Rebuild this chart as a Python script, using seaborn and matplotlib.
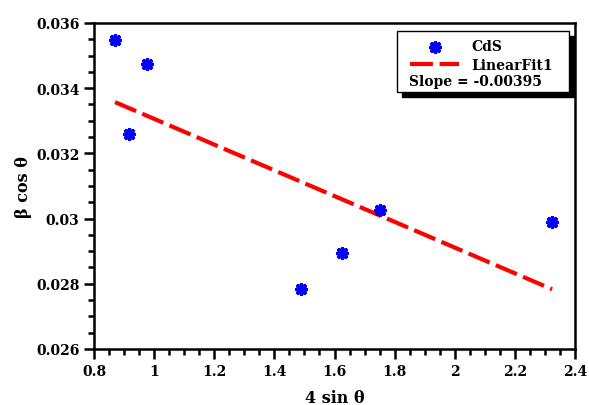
import numpy as np
import pandas as pd
import seaborn as sns
import matplotlib.pyplot as plt
from matplotlib.patches import Rectangle
from matplotlib.ticker import MultipleLocator

sin_theta4 = [0.870, 0.975, 0.917, 1.488, 1.625, 1.751, 2.324]
beta_cos = [0.03549, 0.03474, 0.03260, 0.02784, 0.02894, 0.03026, 0.02990]
x_ticks = [0.8, 1.0, 1.2, 1.4, 1.6, 1.8, 2.0, 2.2, 2.4]
x_ticklabels = ["0.8", "1", "1.2", "1.4", "1.6", "1.8", "2", "2.2", "2.4"]
y_ticks = [0.026, 0.028, 0.030, 0.032, 0.034, 0.036]
y_ticklabels = ["0.026", "0.028", "0.03", "0.032", "0.034", "0.036"]
slope_text = "Slope = -0.00395"

df = pd.DataFrame({"x": sin_theta4, "y": beta_cos})

# Lineare Anpassung
m, b = np.polyfit(df["x"], df["y"], 1)
fit = pd.DataFrame({"x": [df["x"].min(), df["x"].max()]})
fit["y"] = m * fit["x"] + b

sns.set_style("ticks", {"axes.edgecolor": "black", "text.color": "black",
                        "axes.labelcolor": "black", "xtick.color": "black",
                        "ytick.color": "black"})
plt.rcParams["font.family"] = ["DejaVu Serif"]
plt.rcParams["font.weight"] = "bold"

fig = plt.figure(figsize=(5.89, 4.06), dpi=100)
ax = fig.add_axes([94 / 589, 56 / 406, 481 / 589, 326 / 406])

sns.lineplot(data=fit, x="x", y="y", ax=ax, color="#ff0000", lw=3,
             linestyle=(0, (5.5, 1.6)), label="LinearFit1", zorder=2)
sns.scatterplot(data=df, x="x", y="y", ax=ax, marker=(8, 2, 0), s=48,
                color="#0000ff", edgecolor="#0000ff", linewidth=2.6,
                label="CdS", zorder=3)

ax.set_xlim(0.8, 2.4)
ax.set_ylim(0.026, 0.036)
ax.set_xticks(x_ticks)
ax.set_xticklabels(x_ticklabels)
ax.set_yticks(y_ticks)
ax.set_yticklabels(y_ticklabels)
ax.xaxis.set_minor_locator(MultipleLocator(0.05))
ax.yaxis.set_minor_locator(MultipleLocator(0.0005))
ax.tick_params(which="major", length=7, width=1.8, labelsize=10, direction="out",
               color="black", labelcolor="black")
ax.tick_params(which="minor", length=4, width=1.8, direction="out", color="black")
for t in ax.get_xticklabels() + ax.get_yticklabels():
    t.set_fontweight("bold")
for s in ax.spines.values():
    s.set_linewidth(1.8)
    s.set_color("black")
    s.set_visible(True)

ax.set_xlabel("4 sin θ", fontsize=11.5, fontweight="bold", labelpad=8, color="black")
ax.set_ylabel("β cos θ", fontsize=11.5, fontweight="bold", labelpad=3, color="black")

# Legende mit Schatten
bx, by, bw, bh = 0.629, 0.787, 0.359, 0.188
ax.add_patch(Rectangle((bx + 0.0104, by - 0.0153), bw, bh, transform=ax.transAxes,
                       facecolor="black", edgecolor="black", zorder=4, clip_on=False))
ax.add_patch(Rectangle((bx, by), bw, bh, transform=ax.transAxes,
                       facecolor="white", edgecolor="black", lw=1, zorder=5, clip_on=False))
h, l = ax.get_legend_handles_labels()
order = [l.index("CdS"), l.index("LinearFit1")]
leg = ax.legend([h[i] for i in order], [l[i] for i in order], loc="upper left",
                bbox_to_anchor=(0.658, 0.95), frameon=False, borderpad=0,
                borderaxespad=0, handlelength=3.5, handletextpad=0.9,
                labelspacing=0.35, prop={"size": 10, "weight": "bold"})
leg.set_zorder(6)
ax.text(0.655, 0.823, slope_text, transform=ax.transAxes, fontsize=10,
        fontweight="bold", va="center", ha="left", zorder=7)

fig.savefig("out.png", dpi=100)
